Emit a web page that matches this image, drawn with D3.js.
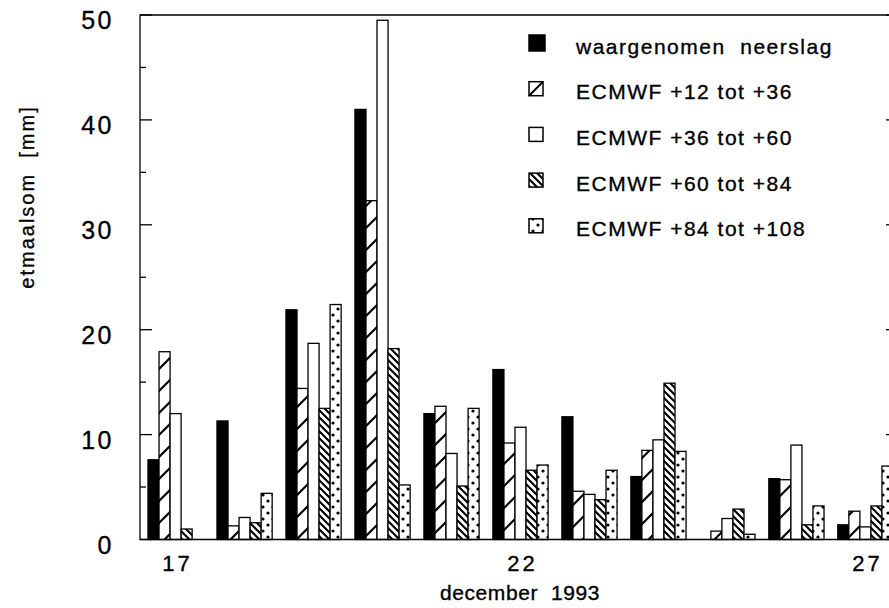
<!DOCTYPE html>
<html>
<head>
<meta charset="utf-8">
<script src="https://cdn.jsdelivr.net/npm/d3@7/dist/d3.min.js"></script>
<style>
  html, body { margin: 0; padding: 0; background: #fff; }
  svg { display: block; }
  text { font-family: "Liberation Sans", Arial, Helvetica, sans-serif; fill: #000; stroke: #000; stroke-width: 0.35; }
</style>
</head>
<body>
<script>
// ---- data ----
const days = [17, 18, 19, 20, 21, 22, 23, 24, 25, 26, 27];
const dayLabels = [17, 22, 27];
const seriesNames = [
  "waargenomen  neerslag",
  "ECMWF +12 tot +36",
  "ECMWF +36 tot +60",
  "ECMWF +60 tot +84",
  "ECMWF +84 tot +108"
];
const observed = [7.6, 11.3, 21.9, 41.0, 12.0, 16.2, 11.7, 6.0, 0.0, 5.8, 1.4];
const fc12_36  = [17.9, 1.3, 14.4, 32.3, 12.7, 9.2, 4.6, 8.5, 0.8, 5.7, 2.7];
const fc36_60  = [12.0, 2.1, 18.7, 49.5, 8.2, 10.7, 4.3, 9.5, 2.0, 9.0, 1.2];
const fc60_84  = [1.0, 1.6, 12.5, 18.2, 5.1, 6.6, 3.8, 14.9, 2.9, 1.4, 3.2];
const fc84_108 = [0.0, 4.4, 22.4, 5.2, 12.5, 7.1, 6.6, 8.4, 0.5, 3.2, 7.0];
const yTicks = [0, 10, 20, 30, 40, 50];
const yMinorTicks = [5, 15, 25, 35, 45];
const series = [observed, fc12_36, fc36_60, fc60_84, fc84_108];

// ---- layout ----
const W = 889, H = 608;
const axisLeft = 140, axisRight = 897, axisTop = 15, axisBottom = 539.5;

const svg = d3.select("body").append("svg").attr("width", W).attr("height", H);

// patterns
const defs = svg.append("defs");
const p1 = defs.append("pattern").attr("id", "pSlash").attr("patternUnits", "userSpaceOnUse")
  .attr("width", 22).attr("height", 22);
p1.append("rect").attr("width", 22).attr("height", 22).attr("fill", "#fff");
p1.append("path").attr("d", "M-2,24 L24,-2 M-13,13 L13,-13 M9,35 L35,9")
  .attr("stroke", "#000").attr("stroke-width", 2.2);

const p3 = defs.append("pattern").attr("id", "pBack").attr("patternUnits", "userSpaceOnUse")
  .attr("width", 7).attr("height", 7);
p3.append("rect").attr("width", 7).attr("height", 7).attr("fill", "#fff");
p3.append("path").attr("d", "M-1,-1 L8,8 M-4.5,2.5 L4.5,11.5 M2.5,-4.5 L11.5,4.5")
  .attr("stroke", "#000").attr("stroke-width", 2.1);

const p4 = defs.append("pattern").attr("id", "pDots").attr("patternUnits", "userSpaceOnUse")
  .attr("width", 10).attr("height", 12);
p4.append("rect").attr("width", 10).attr("height", 12).attr("fill", "#fff");
p4.append("circle").attr("cx", 3).attr("cy", 3).attr("r", 1.6).attr("fill", "#000");
p4.append("circle").attr("cx", 8).attr("cy", 9).attr("r", 1.6).attr("fill", "#000");

const fills = ["#000", "url(#pSlash)", "#fff", "url(#pBack)", "url(#pDots)"];

// scales
const x = d3.scaleBand().domain(days).range([148, 893]).paddingInner(0.2).paddingOuter(0);
const xs = d3.scaleBand().domain(d3.range(series.length)).range([0, x.bandwidth()]).padding(0);
const y = d3.scaleLinear().domain([0, 50]).range([axisBottom, axisTop]);

// bars
const gBars = svg.append("g");
series.forEach((vals, si) => {
  gBars.selectAll(null).data(days.map((d, i) => ({ d, v: vals[i] })))
    .enter().append("rect")
    .attr("x", o => x(o.d) + xs(si))
    .attr("y", o => y(o.v))
    .attr("width", xs.bandwidth())
    .attr("height", o => y(0) - y(o.v))
    .attr("fill", fills[si])
    .attr("stroke", "#000")
    .attr("stroke-width", 1.3);
});

// frame
const frame = svg.append("g").attr("fill", "none").attr("stroke", "#000").attr("stroke-width", 1.3);
frame.append("path").attr("d", `M${axisLeft},${axisBottom} L${axisLeft},${axisTop} L${axisRight},${axisTop} L${axisRight},${axisBottom} Z`);

// y ticks (inward, both sides)
yTicks.forEach(t => {
  frame.append("line").attr("x1", axisLeft).attr("x2", axisLeft + 12).attr("y1", y(t)).attr("y2", y(t));
  frame.append("line").attr("x1", axisRight).attr("x2", axisRight - 11).attr("y1", y(t)).attr("y2", y(t));
});
yMinorTicks.forEach(t => {
  frame.append("line").attr("x1", axisLeft).attr("x2", axisLeft + 6).attr("y1", y(t)).attr("y2", y(t));
  frame.append("line").attr("x1", axisRight).attr("x2", axisRight - 6).attr("y1", y(t)).attr("y2", y(t));
});

// y tick labels
svg.append("g").selectAll("text").data(yTicks).enter().append("text")
  .attr("x", 114).attr("y", t => y(t) + 14)
  .attr("text-anchor", "end")
  .attr("font-size", 25).attr("letter-spacing", 2.5).attr("stroke-width", 0.6)
  .text(t => t);

// x tick labels
svg.append("g").selectAll("text").data(dayLabels).enter().append("text")
  .attr("x", d => x(d) + x.bandwidth() / 2 + 2).attr("y", 571)
  .attr("text-anchor", "middle")
  .attr("font-size", 22).attr("letter-spacing", 3).attr("stroke-width", 0.5)
  .text(d => d);

// axis titles
svg.append("text").attr("x", 520).attr("y", 600).attr("text-anchor", "middle")
  .attr("font-size", 21).attr("letter-spacing", 0.6).attr("xml:space", "preserve")
  .text("december  1993");
svg.append("text").attr("transform", "translate(34,197) rotate(-90)").attr("text-anchor", "middle")
  .attr("font-size", 20).attr("letter-spacing", 2).attr("xml:space", "preserve")
  .text("etmaalsom  [mm]");

// legend
const legend = svg.append("g");
seriesNames.forEach((name, i) => {
  const cy = 46 + i * 45.7;
  const s = i === 0 ? 16 : 14;
  legend.append("rect").attr("x", 529).attr("y", cy - 3 - s / 2).attr("width", s).attr("height", s)
    .attr("fill", i === 1 ? "#fff" : fills[i]).attr("stroke", "#000").attr("stroke-width", 1.5);
  if (i === 1) {
    legend.append("line").attr("x1", 529).attr("y1", cy - 3 + 7).attr("x2", 543).attr("y2", cy - 3 - 7)
      .attr("stroke", "#000").attr("stroke-width", 2);
  }
  legend.append("text").attr("x", 576).attr("y", cy + 7.5)
    .attr("font-size", 21).attr("letter-spacing", 1.5).attr("xml:space", "preserve")
    .text(name);
});
</script>
</body>
</html>
